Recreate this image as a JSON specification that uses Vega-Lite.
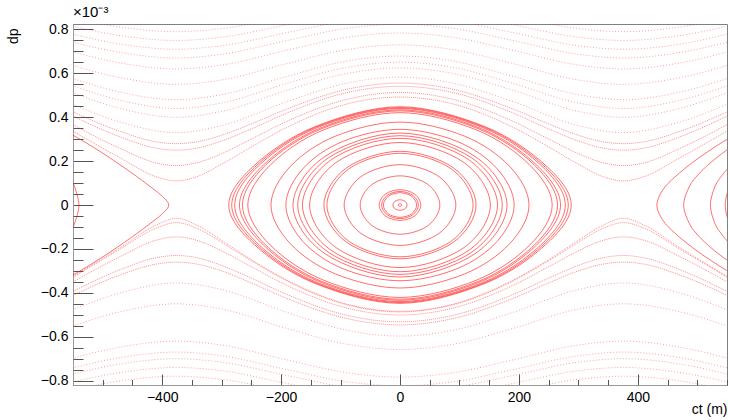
{
"$schema": "https://vega.github.io/schema/vega-lite/v6.json",
"width": 654, "height": 361,
"autosize": {"type": "none"},
"padding": {"left": 73, "top": 24, "right": 3, "bottom": 35},
"background": "white",
"title": {"text": "×10⁻³", "anchor": "start", "frame": "group", "offset": 2, "fontSize": 15, "fontWeight": "normal", "font": "Liberation Sans", "color": "#000"},
"config": {
 "view": {"stroke": "#808080", "strokeWidth": 1},
 "axis": {"labelFont": "Liberation Sans", "titleFont": "Liberation Sans", "labelFontSize": 14, "titleFontSize": 14, "titleFontWeight": "normal", "labelColor": "#000", "titleColor": "#000", "tickColor": "#555", "domainColor": "#999", "grid": false}
},
"datasets": {
"rings": [
{"g":1,"x":288,"y":0},{"g":1,"x":244.8,"y":0.181},{"g":1,"x":144,"y":0.356},{"g":1,"x":0,"y":0.448},{"g":1,"x":-144,"y":0.356},{"g":1,"x":-244.8,"y":0.181},{"g":1,"x":-288,"y":0},{"g":1,"x":-244.8,"y":-0.181},{"g":1,"x":-144,"y":-0.356},{"g":1,"x":0,"y":-0.448},{"g":1,"x":144,"y":-0.356},{"g":1,"x":244.8,"y":-0.181},
{"g":2,"x":283,"y":0},{"g":2,"x":240.6,"y":0.182},{"g":2,"x":141.5,"y":0.355},{"g":2,"x":0,"y":0.444},{"g":2,"x":-141.5,"y":0.355},{"g":2,"x":-240.6,"y":0.182},{"g":2,"x":-283,"y":0},{"g":2,"x":-240.6,"y":-0.182},{"g":2,"x":-141.5,"y":-0.355},{"g":2,"x":0,"y":-0.444},{"g":2,"x":141.5,"y":-0.355},{"g":2,"x":240.6,"y":-0.182},
{"g":3,"x":278,"y":0},{"g":3,"x":236.3,"y":0.183},{"g":3,"x":139,"y":0.353},{"g":3,"x":0,"y":0.44},{"g":3,"x":-139,"y":0.353},{"g":3,"x":-236.3,"y":0.183},{"g":3,"x":-278,"y":0},{"g":3,"x":-236.3,"y":-0.183},{"g":3,"x":-139,"y":-0.353},{"g":3,"x":0,"y":-0.44},{"g":3,"x":139,"y":-0.353},{"g":3,"x":236.3,"y":-0.183},
{"g":4,"x":270,"y":0},{"g":4,"x":229.5,"y":0.183},{"g":4,"x":135,"y":0.35},{"g":4,"x":0,"y":0.434},{"g":4,"x":-135,"y":0.35},{"g":4,"x":-229.5,"y":0.183},{"g":4,"x":-270,"y":0},{"g":4,"x":-229.5,"y":-0.183},{"g":4,"x":-135,"y":-0.35},{"g":4,"x":0,"y":-0.434},{"g":4,"x":135,"y":-0.35},{"g":4,"x":229.5,"y":-0.183},
{"g":5,"x":265,"y":0},{"g":5,"x":225.3,"y":0.184},{"g":5,"x":132.5,"y":0.347},{"g":5,"x":0,"y":0.429},{"g":5,"x":-132.5,"y":0.347},{"g":5,"x":-225.3,"y":0.184},{"g":5,"x":-265,"y":0},{"g":5,"x":-225.3,"y":-0.184},{"g":5,"x":-132.5,"y":-0.347},{"g":5,"x":0,"y":-0.429},{"g":5,"x":132.5,"y":-0.347},{"g":5,"x":225.3,"y":-0.184},
{"g":6,"x":256,"y":0},{"g":6,"x":217.6,"y":0.184},{"g":6,"x":128,"y":0.343},{"g":6,"x":0,"y":0.421},{"g":6,"x":-128,"y":0.343},{"g":6,"x":-217.6,"y":0.184},{"g":6,"x":-256,"y":0},{"g":6,"x":-217.6,"y":-0.184},{"g":6,"x":-128,"y":-0.343},{"g":6,"x":0,"y":-0.421},{"g":6,"x":128,"y":-0.343},{"g":6,"x":217.6,"y":-0.184},
{"g":7,"x":217,"y":0},{"g":7,"x":184.5,"y":0.176},{"g":7,"x":108.5,"y":0.314},{"g":7,"x":0,"y":0.378},{"g":7,"x":-108.5,"y":0.314},{"g":7,"x":-184.5,"y":0.176},{"g":7,"x":-217,"y":0},{"g":7,"x":-184.5,"y":-0.176},{"g":7,"x":-108.5,"y":-0.314},{"g":7,"x":0,"y":-0.378},{"g":7,"x":108.5,"y":-0.314},{"g":7,"x":184.5,"y":-0.176},
{"g":8,"x":192,"y":0},{"g":8,"x":163.2,"y":0.166},{"g":8,"x":96,"y":0.29},{"g":8,"x":0,"y":0.345},{"g":8,"x":-96,"y":0.29},{"g":8,"x":-163.2,"y":0.166},{"g":8,"x":-192,"y":0},{"g":8,"x":-163.2,"y":-0.166},{"g":8,"x":-96,"y":-0.29},{"g":8,"x":0,"y":-0.345},{"g":8,"x":96,"y":-0.29},{"g":8,"x":163.2,"y":-0.166},
{"g":9,"x":180,"y":0},{"g":9,"x":126,"y":0.222},{"g":9,"x":0,"y":0.328},{"g":9,"x":-126,"y":0.222},{"g":9,"x":-180,"y":0},{"g":9,"x":-126,"y":-0.222},{"g":9,"x":0,"y":-0.328},{"g":9,"x":126,"y":-0.222},
{"g":10,"x":172,"y":0},{"g":10,"x":120.4,"y":0.215},{"g":10,"x":0,"y":0.316},{"g":10,"x":-120.4,"y":0.215},{"g":10,"x":-172,"y":0},{"g":10,"x":-120.4,"y":-0.215},{"g":10,"x":0,"y":-0.316},{"g":10,"x":120.4,"y":-0.215},
{"g":11,"x":164,"y":0},{"g":11,"x":114.8,"y":0.208},{"g":11,"x":0,"y":0.304},{"g":11,"x":-114.8,"y":0.208},{"g":11,"x":-164,"y":0},{"g":11,"x":-114.8,"y":-0.208},{"g":11,"x":0,"y":-0.304},{"g":11,"x":114.8,"y":-0.208},
{"g":12,"x":152,"y":0},{"g":12,"x":106.4,"y":0.196},{"g":12,"x":0,"y":0.285},{"g":12,"x":-106.4,"y":0.196},{"g":12,"x":-152,"y":0},{"g":12,"x":-106.4,"y":-0.196},{"g":12,"x":0,"y":-0.285},{"g":12,"x":106.4,"y":-0.196},
{"g":13,"x":128,"y":0},{"g":13,"x":89.6,"y":0.17},{"g":13,"x":0,"y":0.245},{"g":13,"x":-89.6,"y":0.17},{"g":13,"x":-128,"y":0},{"g":13,"x":-89.6,"y":-0.17},{"g":13,"x":0,"y":-0.245},{"g":13,"x":89.6,"y":-0.17},
{"g":14,"x":123,"y":0},{"g":14,"x":86.1,"y":0.165},{"g":14,"x":0,"y":0.236},{"g":14,"x":-86.1,"y":0.165},{"g":14,"x":-123,"y":0},{"g":14,"x":-86.1,"y":-0.165},{"g":14,"x":0,"y":-0.236},{"g":14,"x":86.1,"y":-0.165},
{"g":15,"x":94,"y":0},{"g":15,"x":65.8,"y":0.129},{"g":15,"x":0,"y":0.184},{"g":15,"x":-65.8,"y":0.129},{"g":15,"x":-94,"y":0},{"g":15,"x":-65.8,"y":-0.129},{"g":15,"x":0,"y":-0.184},{"g":15,"x":65.8,"y":-0.129},
{"g":16,"x":67,"y":0},{"g":16,"x":46.9,"y":0.094},{"g":16,"x":0,"y":0.133},{"g":16,"x":-46.9,"y":0.094},{"g":16,"x":-67,"y":0},{"g":16,"x":-46.9,"y":-0.094},{"g":16,"x":0,"y":-0.133},{"g":16,"x":46.9,"y":-0.094},
{"g":17,"x":35,"y":0},{"g":17,"x":24.5,"y":0.05},{"g":17,"x":0,"y":0.07},{"g":17,"x":-24.5,"y":0.05},{"g":17,"x":-35,"y":0},{"g":17,"x":-24.5,"y":-0.05},{"g":17,"x":0,"y":-0.07},{"g":17,"x":24.5,"y":-0.05},
{"g":18,"x":31,"y":0},{"g":18,"x":21.7,"y":0.044},{"g":18,"x":0,"y":0.062},{"g":18,"x":-21.7,"y":0.044},{"g":18,"x":-31,"y":0},{"g":18,"x":-21.7,"y":-0.044},{"g":18,"x":0,"y":-0.062},{"g":18,"x":21.7,"y":-0.044},
{"g":19,"x":28,"y":0},{"g":19,"x":19.6,"y":0.04},{"g":19,"x":0,"y":0.056},{"g":19,"x":-19.6,"y":0.04},{"g":19,"x":-28,"y":0},{"g":19,"x":-19.6,"y":-0.04},{"g":19,"x":0,"y":-0.056},{"g":19,"x":19.6,"y":-0.04},
{"g":20,"x":12,"y":0},{"g":20,"x":8.4,"y":0.017},{"g":20,"x":0,"y":0.024},{"g":20,"x":-8.4,"y":0.017},{"g":20,"x":-12,"y":0},{"g":20,"x":-8.4,"y":-0.017},{"g":20,"x":0,"y":-0.024},{"g":20,"x":8.4,"y":-0.017},
{"g":21,"x":3,"y":0},{"g":21,"x":2.1,"y":0.004},{"g":21,"x":0,"y":0.006},{"g":21,"x":-2.1,"y":0.004},{"g":21,"x":-3,"y":0},{"g":21,"x":-2.1,"y":-0.004},{"g":21,"x":0,"y":-0.006},{"g":21,"x":2.1,"y":-0.004}
],
"side": [
{"g":1,"x":-602,"y":0.388},{"g":1,"x":-552,"y":0.321},{"g":1,"x":-502,"y":0.24},{"g":1,"x":-452,"y":0.148},{"g":1,"x":-422,"y":0.088},{"g":1,"x":-402,"y":0.045},{"g":1,"x":-389,"y":0},{"g":1,"x":-402,"y":-0.045},{"g":1,"x":-422,"y":-0.088},{"g":1,"x":-452,"y":-0.148},{"g":1,"x":-502,"y":-0.24},{"g":1,"x":-552,"y":-0.321},{"g":1,"x":-602,"y":-0.388},
{"g":2,"x":-592,"y":0.223},{"g":2,"x":-562,"y":0.145},{"g":2,"x":-552,"y":0.107},{"g":2,"x":-547,"y":0.081},{"g":2,"x":-540,"y":0},{"g":2,"x":-547,"y":-0.081},{"g":2,"x":-552,"y":-0.107},{"g":2,"x":-562,"y":-0.145},{"g":2,"x":-592,"y":-0.223},
{"g":3,"x":592,"y":0.36},{"g":3,"x":552,"y":0.302},{"g":3,"x":522,"y":0.251},{"g":3,"x":492,"y":0.194},{"g":3,"x":462,"y":0.127},{"g":3,"x":442,"y":0.069},{"g":3,"x":432,"y":0},{"g":3,"x":442,"y":-0.069},{"g":3,"x":462,"y":-0.127},{"g":3,"x":492,"y":-0.194},{"g":3,"x":522,"y":-0.251},{"g":3,"x":552,"y":-0.302},{"g":3,"x":592,"y":-0.36},
{"g":4,"x":592,"y":0.321},{"g":4,"x":552,"y":0.255},{"g":4,"x":522,"y":0.192},{"g":4,"x":502,"y":0.14},{"g":4,"x":487,"y":0.086},{"g":4,"x":477,"y":0},{"g":4,"x":487,"y":-0.086},{"g":4,"x":502,"y":-0.14},{"g":4,"x":522,"y":-0.192},{"g":4,"x":552,"y":-0.255},{"g":4,"x":592,"y":-0.321},
{"g":5,"x":602,"y":0.275},{"g":5,"x":572,"y":0.217},{"g":5,"x":552,"y":0.168},{"g":5,"x":542,"y":0.136},{"g":5,"x":530,"y":0.086},{"g":5,"x":522,"y":0},{"g":5,"x":530,"y":-0.086},{"g":5,"x":542,"y":-0.136},{"g":5,"x":552,"y":-0.168},{"g":5,"x":572,"y":-0.217},{"g":5,"x":602,"y":-0.275},
{"g":6,"x":582,"y":0.183},{"g":6,"x":562,"y":0.12},{"g":6,"x":552,"y":0.069},{"g":6,"x":547,"y":0},{"g":6,"x":552,"y":-0.069},{"g":6,"x":562,"y":-0.12},{"g":6,"x":582,"y":-0.183}
],
"near": [
{"g":1,"x":-552,"y":0.34},{"g":1,"x":-470,"y":0.214},{"g":1,"x":-410,"y":0.129},{"g":1,"x":-376,"y":0.11},{"g":1,"x":-340,"y":0.131},{"g":1,"x":-300,"y":0.186},{"g":1,"x":-250,"y":0.265},{"g":1,"x":-188,"y":0.357},{"g":1,"x":-90,"y":0.46},{"g":1,"x":0,"y":0.492},{"g":1,"x":90,"y":0.46},{"g":1,"x":188,"y":0.357},{"g":1,"x":250,"y":0.265},{"g":1,"x":300,"y":0.186},{"g":1,"x":340,"y":0.131},{"g":1,"x":376,"y":0.11},{"g":1,"x":410,"y":0.129},{"g":1,"x":470,"y":0.214},{"g":1,"x":552,"y":0.34},
{"g":2,"x":-552,"y":0.369},{"g":2,"x":-470,"y":0.257},{"g":2,"x":-410,"y":0.192},{"g":2,"x":-376,"y":0.18},{"g":2,"x":-340,"y":0.194},{"g":2,"x":-300,"y":0.234},{"g":2,"x":-250,"y":0.301},{"g":2,"x":-188,"y":0.384},{"g":2,"x":-90,"y":0.481},{"g":2,"x":0,"y":0.513},{"g":2,"x":90,"y":0.481},{"g":2,"x":188,"y":0.384},{"g":2,"x":250,"y":0.301},{"g":2,"x":300,"y":0.234},{"g":2,"x":340,"y":0.194},{"g":2,"x":376,"y":0.18},{"g":2,"x":410,"y":0.192},{"g":2,"x":470,"y":0.257},{"g":2,"x":552,"y":0.369},
{"g":3,"x":-552,"y":0.408},{"g":3,"x":-470,"y":0.31},{"g":3,"x":-410,"y":0.259},{"g":3,"x":-376,"y":0.25},{"g":3,"x":-340,"y":0.26},{"g":3,"x":-300,"y":0.292},{"g":3,"x":-250,"y":0.347},{"g":3,"x":-188,"y":0.422},{"g":3,"x":-90,"y":0.512},{"g":3,"x":0,"y":0.541},{"g":3,"x":90,"y":0.512},{"g":3,"x":188,"y":0.422},{"g":3,"x":250,"y":0.347},{"g":3,"x":300,"y":0.292},{"g":3,"x":340,"y":0.26},{"g":3,"x":376,"y":0.25},{"g":3,"x":410,"y":0.259},{"g":3,"x":470,"y":0.31},{"g":3,"x":552,"y":0.408},
{"g":4,"x":-552,"y":0.427},{"g":4,"x":-470,"y":0.335},{"g":4,"x":-410,"y":0.288},{"g":4,"x":-376,"y":0.28},{"g":4,"x":-340,"y":0.289},{"g":4,"x":-300,"y":0.318},{"g":4,"x":-250,"y":0.37},{"g":4,"x":-188,"y":0.44},{"g":4,"x":-90,"y":0.527},{"g":4,"x":0,"y":0.556},{"g":4,"x":90,"y":0.527},{"g":4,"x":188,"y":0.44},{"g":4,"x":250,"y":0.37},{"g":4,"x":300,"y":0.318},{"g":4,"x":340,"y":0.289},{"g":4,"x":376,"y":0.28},{"g":4,"x":410,"y":0.288},{"g":4,"x":470,"y":0.335},{"g":4,"x":552,"y":0.427},
{"g":5,"x":-552,"y":-0.328},{"g":5,"x":-470,"y":-0.193},{"g":5,"x":-410,"y":-0.091},{"g":5,"x":-376,"y":-0.06},{"g":5,"x":-340,"y":-0.094},{"g":5,"x":-300,"y":-0.161},{"g":5,"x":-250,"y":-0.249},{"g":5,"x":-188,"y":-0.345},{"g":5,"x":-90,"y":-0.451},{"g":5,"x":0,"y":-0.484},{"g":5,"x":90,"y":-0.451},{"g":5,"x":188,"y":-0.345},{"g":5,"x":250,"y":-0.249},{"g":5,"x":300,"y":-0.161},{"g":5,"x":340,"y":-0.094},{"g":5,"x":376,"y":-0.06},{"g":5,"x":410,"y":-0.091},{"g":5,"x":470,"y":-0.193},{"g":5,"x":552,"y":-0.328},
{"g":6,"x":-552,"y":-0.332},{"g":6,"x":-470,"y":-0.2},{"g":6,"x":-410,"y":-0.105},{"g":6,"x":-376,"y":-0.08},{"g":6,"x":-340,"y":-0.108},{"g":6,"x":-300,"y":-0.17},{"g":6,"x":-250,"y":-0.254},{"g":6,"x":-188,"y":-0.349},{"g":6,"x":-90,"y":-0.454},{"g":6,"x":0,"y":-0.487},{"g":6,"x":90,"y":-0.454},{"g":6,"x":188,"y":-0.349},{"g":6,"x":250,"y":-0.254},{"g":6,"x":300,"y":-0.17},{"g":6,"x":340,"y":-0.108},{"g":6,"x":376,"y":-0.08},{"g":6,"x":410,"y":-0.105},{"g":6,"x":470,"y":-0.2},{"g":6,"x":552,"y":-0.332},
{"g":7,"x":-552,"y":-0.353},{"g":7,"x":-470,"y":-0.234},{"g":7,"x":-410,"y":-0.16},{"g":7,"x":-376,"y":-0.145},{"g":7,"x":-340,"y":-0.162},{"g":7,"x":-300,"y":-0.209},{"g":7,"x":-250,"y":-0.281},{"g":7,"x":-188,"y":-0.369},{"g":7,"x":-90,"y":-0.469},{"g":7,"x":0,"y":-0.501},{"g":7,"x":90,"y":-0.469},{"g":7,"x":188,"y":-0.369},{"g":7,"x":250,"y":-0.281},{"g":7,"x":300,"y":-0.209},{"g":7,"x":340,"y":-0.162},{"g":7,"x":376,"y":-0.145},{"g":7,"x":410,"y":-0.16},{"g":7,"x":470,"y":-0.234},{"g":7,"x":552,"y":-0.353},
{"g":8,"x":-552,"y":-0.396},{"g":8,"x":-470,"y":-0.294},{"g":8,"x":-410,"y":-0.24},{"g":8,"x":-376,"y":-0.23},{"g":8,"x":-340,"y":-0.241},{"g":8,"x":-300,"y":-0.275},{"g":8,"x":-250,"y":-0.333},{"g":8,"x":-188,"y":-0.41},{"g":8,"x":-90,"y":-0.502},{"g":8,"x":0,"y":-0.532},{"g":8,"x":90,"y":-0.502},{"g":8,"x":188,"y":-0.41},{"g":8,"x":250,"y":-0.333},{"g":8,"x":300,"y":-0.275},{"g":8,"x":340,"y":-0.241},{"g":8,"x":376,"y":-0.23},{"g":8,"x":410,"y":-0.24},{"g":8,"x":470,"y":-0.294},{"g":8,"x":552,"y":-0.396},
{"g":9,"x":-552,"y":-0.414},{"g":9,"x":-470,"y":-0.318},{"g":9,"x":-410,"y":-0.269},{"g":9,"x":-376,"y":-0.26},{"g":9,"x":-340,"y":-0.27},{"g":9,"x":-300,"y":-0.3},{"g":9,"x":-250,"y":-0.355},{"g":9,"x":-188,"y":-0.428},{"g":9,"x":-90,"y":-0.517},{"g":9,"x":0,"y":-0.546},{"g":9,"x":90,"y":-0.517},{"g":9,"x":188,"y":-0.428},{"g":9,"x":250,"y":-0.355},{"g":9,"x":300,"y":-0.3},{"g":9,"x":340,"y":-0.27},{"g":9,"x":376,"y":-0.26},{"g":9,"x":410,"y":-0.269},{"g":9,"x":470,"y":-0.318},{"g":9,"x":552,"y":-0.414}
],
"far": [
{"g":11,"x":-552,"y":0.461},{"g":11,"x":-470,"y":0.378},{"g":11,"x":-376,"y":0.33},{"g":11,"x":-300,"y":0.362},{"g":11,"x":-188,"y":0.473},{"g":11,"x":-90,"y":0.555},{"g":11,"x":0,"y":0.583},{"g":11,"x":90,"y":0.555},{"g":11,"x":188,"y":0.473},{"g":11,"x":300,"y":0.362},{"g":11,"x":376,"y":0.33},{"g":11,"x":470,"y":0.378},{"g":11,"x":552,"y":0.461},
{"g":12,"x":-552,"y":0.514},{"g":12,"x":-470,"y":0.44},{"g":12,"x":-376,"y":0.4},{"g":12,"x":-300,"y":0.427},{"g":12,"x":-188,"y":0.525},{"g":12,"x":-90,"y":0.599},{"g":12,"x":0,"y":0.625},{"g":12,"x":90,"y":0.599},{"g":12,"x":188,"y":0.525},{"g":12,"x":300,"y":0.427},{"g":12,"x":376,"y":0.4},{"g":12,"x":470,"y":0.44},{"g":12,"x":552,"y":0.514},
{"g":13,"x":-552,"y":0.545},{"g":13,"x":-470,"y":0.477},{"g":13,"x":-376,"y":0.44},{"g":13,"x":-300,"y":0.465},{"g":13,"x":-188,"y":0.556},{"g":13,"x":-90,"y":0.627},{"g":13,"x":0,"y":0.651},{"g":13,"x":90,"y":0.627},{"g":13,"x":188,"y":0.556},{"g":13,"x":300,"y":0.465},{"g":13,"x":376,"y":0.44},{"g":13,"x":470,"y":0.477},{"g":13,"x":552,"y":0.545},
{"g":14,"x":-552,"y":0.578},{"g":14,"x":-470,"y":0.514},{"g":14,"x":-376,"y":0.48},{"g":14,"x":-300,"y":0.503},{"g":14,"x":-188,"y":0.588},{"g":14,"x":-90,"y":0.656},{"g":14,"x":0,"y":0.679},{"g":14,"x":90,"y":0.656},{"g":14,"x":188,"y":0.588},{"g":14,"x":300,"y":0.503},{"g":14,"x":376,"y":0.48},{"g":14,"x":470,"y":0.514},{"g":14,"x":552,"y":0.578},
{"g":15,"x":-552,"y":0.637},{"g":15,"x":-470,"y":0.58},{"g":15,"x":-376,"y":0.55},{"g":15,"x":-300,"y":0.57},{"g":15,"x":-188,"y":0.646},{"g":15,"x":-90,"y":0.708},{"g":15,"x":0,"y":0.73},{"g":15,"x":90,"y":0.708},{"g":15,"x":188,"y":0.646},{"g":15,"x":300,"y":0.57},{"g":15,"x":376,"y":0.55},{"g":15,"x":470,"y":0.58},{"g":15,"x":552,"y":0.637},
{"g":16,"x":-552,"y":0.699},{"g":16,"x":-470,"y":0.647},{"g":16,"x":-376,"y":0.62},{"g":16,"x":-300,"y":0.638},{"g":16,"x":-188,"y":0.707},{"g":16,"x":-90,"y":0.764},{"g":16,"x":0,"y":0.784},{"g":16,"x":90,"y":0.764},{"g":16,"x":188,"y":0.707},{"g":16,"x":300,"y":0.638},{"g":16,"x":376,"y":0.62},{"g":16,"x":470,"y":0.647},{"g":16,"x":552,"y":0.699},
{"g":17,"x":-552,"y":0.743},{"g":17,"x":-470,"y":0.695},{"g":17,"x":-376,"y":0.67},{"g":17,"x":-300,"y":0.687},{"g":17,"x":-188,"y":0.751},{"g":17,"x":-90,"y":0.805},{"g":17,"x":0,"y":0.824},{"g":17,"x":90,"y":0.805},{"g":17,"x":188,"y":0.751},{"g":17,"x":300,"y":0.687},{"g":17,"x":376,"y":0.67},{"g":17,"x":470,"y":0.695},{"g":17,"x":552,"y":0.743},
{"g":18,"x":-552,"y":0.78},{"g":18,"x":-470,"y":0.733},{"g":18,"x":-376,"y":0.71},{"g":18,"x":-300,"y":0.726},{"g":18,"x":-188,"y":0.787},{"g":18,"x":-90,"y":0.839},{"g":18,"x":0,"y":0.857},{"g":18,"x":90,"y":0.839},{"g":18,"x":188,"y":0.787},{"g":18,"x":300,"y":0.726},{"g":18,"x":376,"y":0.71},{"g":18,"x":470,"y":0.733},{"g":18,"x":552,"y":0.78},
{"g":19,"x":-552,"y":0.816},{"g":19,"x":-470,"y":0.772},{"g":19,"x":-376,"y":0.75},{"g":19,"x":-300,"y":0.765},{"g":19,"x":-188,"y":0.823},{"g":19,"x":-90,"y":0.873},{"g":19,"x":0,"y":0.891},{"g":19,"x":90,"y":0.873},{"g":19,"x":188,"y":0.823},{"g":19,"x":300,"y":0.765},{"g":19,"x":376,"y":0.75},{"g":19,"x":470,"y":0.772},{"g":19,"x":552,"y":0.816},
{"g":20,"x":-552,"y":0.853},{"g":20,"x":-470,"y":0.811},{"g":20,"x":-376,"y":0.79},{"g":20,"x":-300,"y":0.804},{"g":20,"x":-188,"y":0.86},{"g":20,"x":-90,"y":0.907},{"g":20,"x":0,"y":0.924},{"g":20,"x":90,"y":0.907},{"g":20,"x":188,"y":0.86},{"g":20,"x":300,"y":0.804},{"g":20,"x":376,"y":0.79},{"g":20,"x":470,"y":0.811},{"g":20,"x":552,"y":0.853},
{"g":21,"x":-552,"y":-0.479},{"g":21,"x":-470,"y":-0.4},{"g":21,"x":-376,"y":-0.355},{"g":21,"x":-300,"y":-0.385},{"g":21,"x":-188,"y":-0.491},{"g":21,"x":-90,"y":-0.57},{"g":21,"x":0,"y":-0.597},{"g":21,"x":90,"y":-0.57},{"g":21,"x":188,"y":-0.491},{"g":21,"x":300,"y":-0.385},{"g":21,"x":376,"y":-0.355},{"g":21,"x":470,"y":-0.4},{"g":21,"x":552,"y":-0.479},
{"g":22,"x":-552,"y":-0.553},{"g":22,"x":-470,"y":-0.486},{"g":22,"x":-376,"y":-0.45},{"g":22,"x":-300,"y":-0.474},{"g":22,"x":-188,"y":-0.564},{"g":22,"x":-90,"y":-0.634},{"g":22,"x":0,"y":-0.658},{"g":22,"x":90,"y":-0.634},{"g":22,"x":188,"y":-0.564},{"g":22,"x":300,"y":-0.474},{"g":22,"x":376,"y":-0.45},{"g":22,"x":470,"y":-0.486},{"g":22,"x":552,"y":-0.553},
{"g":23,"x":-552,"y":-0.699},{"g":23,"x":-470,"y":-0.647},{"g":23,"x":-376,"y":-0.62},{"g":23,"x":-300,"y":-0.638},{"g":23,"x":-188,"y":-0.707},{"g":23,"x":-90,"y":-0.764},{"g":23,"x":0,"y":-0.784},{"g":23,"x":90,"y":-0.764},{"g":23,"x":188,"y":-0.707},{"g":23,"x":300,"y":-0.638},{"g":23,"x":376,"y":-0.62},{"g":23,"x":470,"y":-0.647},{"g":23,"x":552,"y":-0.699},
{"g":24,"x":-552,"y":-0.743},{"g":24,"x":-470,"y":-0.695},{"g":24,"x":-376,"y":-0.67},{"g":24,"x":-300,"y":-0.687},{"g":24,"x":-188,"y":-0.751},{"g":24,"x":-90,"y":-0.805},{"g":24,"x":0,"y":-0.824},{"g":24,"x":90,"y":-0.805},{"g":24,"x":188,"y":-0.751},{"g":24,"x":300,"y":-0.687},{"g":24,"x":376,"y":-0.67},{"g":24,"x":470,"y":-0.695},{"g":24,"x":552,"y":-0.743},
{"g":25,"x":-552,"y":-0.771},{"g":25,"x":-470,"y":-0.724},{"g":25,"x":-376,"y":-0.7},{"g":25,"x":-300,"y":-0.716},{"g":25,"x":-188,"y":-0.778},{"g":25,"x":-90,"y":-0.83},{"g":25,"x":0,"y":-0.849},{"g":25,"x":90,"y":-0.83},{"g":25,"x":188,"y":-0.778},{"g":25,"x":300,"y":-0.716},{"g":25,"x":376,"y":-0.7},{"g":25,"x":470,"y":-0.724},{"g":25,"x":552,"y":-0.771},
{"g":26,"x":-552,"y":-0.807},{"g":26,"x":-470,"y":-0.763},{"g":26,"x":-376,"y":-0.74},{"g":26,"x":-300,"y":-0.755},{"g":26,"x":-188,"y":-0.814},{"g":26,"x":-90,"y":-0.864},{"g":26,"x":0,"y":-0.882},{"g":26,"x":90,"y":-0.864},{"g":26,"x":188,"y":-0.814},{"g":26,"x":300,"y":-0.755},{"g":26,"x":376,"y":-0.74},{"g":26,"x":470,"y":-0.763},{"g":26,"x":552,"y":-0.807},
{"g":27,"x":-552,"y":-0.844},{"g":27,"x":-470,"y":-0.801},{"g":27,"x":-376,"y":-0.78},{"g":27,"x":-300,"y":-0.794},{"g":27,"x":-188,"y":-0.851},{"g":27,"x":-90,"y":-0.899},{"g":27,"x":0,"y":-0.916},{"g":27,"x":90,"y":-0.899},{"g":27,"x":188,"y":-0.851},{"g":27,"x":300,"y":-0.794},{"g":27,"x":376,"y":-0.78},{"g":27,"x":470,"y":-0.801},{"g":27,"x":552,"y":-0.844}
]
},
"layer": [
{
 "data": {"name": "far"},
 "mark": {"type": "line", "interpolate": "monotone", "clip": true, "color": "#ff0000", "strokeWidth": 1, "strokeDash": [1, 2], "opacity": 0.38},
 "encoding": {
  "x": {"field": "x", "type": "quantitative", "scale": {"domain": [-550, 550], "nice": false, "zero": false},
   "axis": {"orient": "bottom", "values": [-400, -200, 0, 200, 400], "tickSize": -11, "labelPadding": 16, "labelFlush": false, "title": "ct (m)", "titleX": 654, "titleY": 28, "titleAlign": "right", "titleBaseline": "alphabetic", "titleAnchor": "end"}},
  "y": {"field": "y", "type": "quantitative", "scale": {"domain": [-0.82, 0.825], "nice": false, "zero": false},
   "axis": {"orient": "left", "values": [-0.8, -0.6, -0.4, -0.2, 0, 0.2, 0.4, 0.6, 0.8], "tickSize": -20, "labelPadding": 25, "labelFlush": false, "labelExpr": "datum.value == 0 ? '0' : format(datum.value, '.1f')", "title": "dp", "titleX": -56, "titleY": 4, "titleAngle": 270, "titleAlign": "right", "titleBaseline": "alphabetic", "titleAnchor": "end"}},
  "detail": {"field": "g", "type": "nominal"},
  "order": {"value": null}
 }
},
{
 "data": {"name": "near"},
 "mark": {"type": "line", "interpolate": "monotone", "clip": true, "color": "#ff0000", "strokeWidth": 1, "strokeDash": [1, 1], "opacity": 0.45},
 "encoding": {
  "x": {"field": "x", "type": "quantitative", "axis": null},
  "y": {"field": "y", "type": "quantitative", "axis": null},
  "detail": {"field": "g", "type": "nominal"},
  "order": {"value": null}
 }
},
{
 "data": {"name": "side"},
 "mark": {"type": "line", "interpolate": "cardinal", "clip": true, "color": "#ff0000", "strokeWidth": 0.8, "opacity": 0.7},
 "encoding": {
  "x": {"field": "x", "type": "quantitative", "axis": null},
  "y": {"field": "y", "type": "quantitative", "axis": null},
  "detail": {"field": "g", "type": "nominal"},
  "order": {"value": null}
 }
},
{
 "data": {"name": "rings"},
 "mark": {"type": "line", "interpolate": "cardinal-closed", "clip": true, "color": "#ff0000", "strokeWidth": 0.8, "opacity": 0.72},
 "encoding": {
  "x": {"field": "x", "type": "quantitative", "axis": null},
  "y": {"field": "y", "type": "quantitative", "axis": null},
  "detail": {"field": "g", "type": "nominal"},
  "order": {"value": null}
 }
},
{
 "data": {"name": "rings"},
 "mark": {"type": "point", "opacity": 0, "size": 1},
 "encoding": {
  "x": {"field": "x", "type": "quantitative",
   "axis": {"orient": "bottom", "values": [-550, -500, -450, -350, -300, -250, -150, -100, -50, 50, 100, 150, 250, 300, 350, 450, 500, 550], "tickSize": -5.5, "labels": false, "domain": false, "title": null}},
  "y": {"field": "y", "type": "quantitative",
   "axis": {"orient": "left", "values": [-0.75, -0.7, -0.65, -0.55, -0.5, -0.45, -0.35, -0.3, -0.25, -0.15, -0.1, -0.05, 0.05, 0.1, 0.15, 0.25, 0.3, 0.35, 0.45, 0.5, 0.55, 0.65, 0.7, 0.75], "tickSize": -10, "labels": false, "domain": false, "title": null}}
 }
}
],
"resolve": {"axis": {"x": "independent", "y": "independent"}}
}
